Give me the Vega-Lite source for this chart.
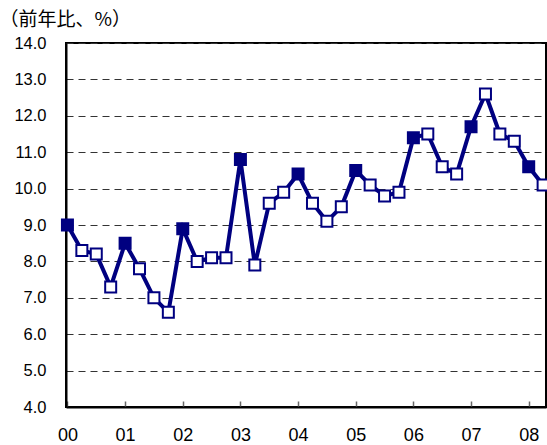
{
  "$schema": "https://vega.github.io/schema/vega-lite/v6.json",
  "autosize": "none",
  "width": 480,
  "height": 364,
  "padding": {"left": 66, "top": 43, "right": 1, "bottom": 38},
  "background": "white",
  "config": {
    "view": {"stroke": "black", "strokeWidth": 2},
    "axis": {"labelFont": "Liberation Sans", "labelColor": "black", "titleFont": "Noto Sans CJK JP"}
  },
  "data": {"values": [
    {"t": 0, "q": 1, "v": 9.0}, {"t": 1, "q": 2, "v": 8.3}, {"t": 2, "q": 3, "v": 8.2}, {"t": 3, "q": 4, "v": 7.3},
    {"t": 4, "q": 1, "v": 8.5}, {"t": 5, "q": 2, "v": 7.8}, {"t": 6, "q": 3, "v": 7.0}, {"t": 7, "q": 4, "v": 6.6},
    {"t": 8, "q": 1, "v": 8.9}, {"t": 9, "q": 2, "v": 8.0}, {"t": 10, "q": 3, "v": 8.1}, {"t": 11, "q": 4, "v": 8.1},
    {"t": 12, "q": 1, "v": 10.8}, {"t": 13, "q": 2, "v": 7.9}, {"t": 14, "q": 3, "v": 9.6}, {"t": 15, "q": 4, "v": 9.9},
    {"t": 16, "q": 1, "v": 10.4}, {"t": 17, "q": 2, "v": 9.6}, {"t": 18, "q": 3, "v": 9.1}, {"t": 19, "q": 4, "v": 9.5},
    {"t": 20, "q": 1, "v": 10.5}, {"t": 21, "q": 2, "v": 10.1}, {"t": 22, "q": 3, "v": 9.8}, {"t": 23, "q": 4, "v": 9.9},
    {"t": 24, "q": 1, "v": 11.4}, {"t": 25, "q": 2, "v": 11.5}, {"t": 26, "q": 3, "v": 10.6}, {"t": 27, "q": 4, "v": 10.4},
    {"t": 28, "q": 1, "v": 11.7}, {"t": 29, "q": 2, "v": 12.6}, {"t": 30, "q": 3, "v": 11.5}, {"t": 31, "q": 4, "v": 11.3},
    {"t": 32, "q": 1, "v": 10.6}, {"t": 33, "q": 2, "v": 10.1}
  ]},
  "encoding": {
    "x": {
      "field": "t", "type": "quantitative",
      "scale": {"domain": [-0.1, 33.2], "nice": false, "zero": false},
      "axis": {
        "title": null, "values": [0, 4, 8, 12, 16, 20, 24, 28, 32],
        "labelExpr": "format(datum.value / 4, '02d')",
        "grid": false, "domainColor": "black", "domainWidth": 2,
        "tickSize": -6, "tickColor": "#666666", "tickWidth": 1.5,
        "labelFontSize": 18, "labelPadding": 25, "labelFlush": false
      }
    },
    "y": {
      "field": "v", "type": "quantitative",
      "scale": {"domain": [4, 14], "nice": false, "zero": false},
      "axis": {
        "title": "（前年比、%）", "titleAngle": 0, "titleAlign": "left", "titleBaseline": "middle",
        "titleX": -67, "titleY": -24, "titleFontSize": 19, "titleFontWeight": "normal", "titleColor": "black",
        "values": [4, 5, 6, 7, 8, 9, 10, 11, 12, 13, 14], "format": ".1f",
        "ticks": false, "labelPadding": 20, "labelFontSize": 16.5,
        "domainColor": "black", "domainWidth": 2,
        "grid": true, "gridColor": "#333333", "gridDash": [7, 5], "gridWidth": 1.2
      }
    }
  },
  "layer": [
    {"mark": {"type": "line", "color": "#000080", "strokeWidth": 4}},
    {
      "mark": {"type": "point", "shape": "square", "size": 121, "strokeWidth": 2, "stroke": "#000080", "opacity": 1, "filled": true},
      "encoding": {
        "fill": {"condition": {"test": "datum.q == 1", "value": "#000080"}, "value": "white"}
      }
    }
  ]
}
